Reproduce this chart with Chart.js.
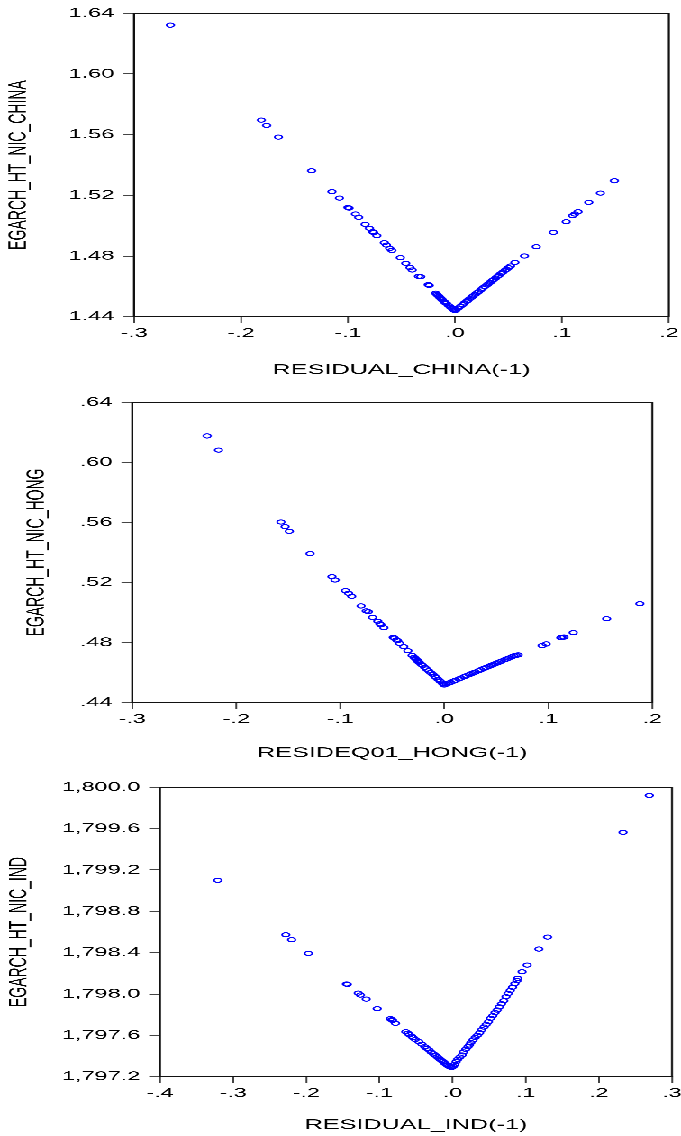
<!DOCTYPE html>
<html>
<head>
<meta charset="utf-8">
<script src="https://cdn.jsdelivr.net/npm/chart.js@4/dist/chart.umd.min.js"></script>
<style>
  html, body { margin: 0; padding: 0; background: #fff; overflow: hidden; }
  /* the reference is a horizontally stretched picture, so draw narrow and stretch */
  #wrap { position: relative; width: 378px; height: 1136px; transform: scaleX(1.8016); transform-origin: 0 0; }
  #wrap canvas { position: absolute; left: 0; }
</style>
</head>
<body>
<div id="wrap">
  <canvas id="c1" width="378" height="380" style="top:0px"></canvas>
  <canvas id="c2" width="378" height="383" style="top:380px"></canvas>
  <canvas id="c3" width="378" height="376" style="top:760px"></canvas>
</div>
<script>
// China: residual(-1) vs EGARCH news impact
const chinaX = [-0.266, -0.181, -0.176, -0.165, -0.134, -0.115, -0.108, -0.100, -0.099, -0.093, -0.090, -0.084,
  -0.080, -0.077, -0.076, -0.073, -0.066, -0.064, -0.061, -0.059, -0.051, -0.046, -0.042, -0.040, -0.034, -0.032,
  -0.025, -0.024, -0.018, -0.017, -0.016, -0.015, -0.014, -0.013, -0.012, -0.010, -0.009, -0.008, -0.006, -0.004,
  -0.003, -0.002, -0.001, 0.000,
  0.001, 0.003, 0.005, 0.007, 0.009, 0.011, 0.012, 0.014, 0.016, 0.017, 0.019, 0.021, 0.022, 0.024, 0.026, 0.028,
  0.030, 0.031, 0.033, 0.035, 0.036, 0.038, 0.040, 0.041, 0.043, 0.045, 0.047, 0.048, 0.050, 0.052, 0.056, 0.065,
  0.076, 0.092, 0.104, 0.110, 0.112, 0.115, 0.125, 0.136, 0.149];
const chinaY = [1.6322, 1.5696, 1.5661, 1.5584, 1.5362, 1.5224, 1.5182, 1.5120, 1.5116, 1.5077, 1.5055, 1.5009,
  1.4983, 1.4960, 1.4955, 1.4934, 1.4888, 1.4872, 1.4850, 1.4837, 1.4789, 1.4752, 1.4724, 1.4708, 1.4666, 1.4664,
  1.4611, 1.4606, 1.4555, 1.4548, 1.4541, 1.4534, 1.4526, 1.4519, 1.4512, 1.4499, 1.4492, 1.4487, 1.4474, 1.4462,
  1.4456, 1.4450, 1.4445, 1.4441,
  1.4444, 1.4456, 1.4468, 1.4479, 1.4491, 1.4502, 1.4508, 1.4520, 1.4531, 1.4537, 1.4548, 1.4559, 1.4565, 1.4576,
  1.4588, 1.4599, 1.4610, 1.4616, 1.4627, 1.4638, 1.4644, 1.4655, 1.4667, 1.4672, 1.4684, 1.4695, 1.4706, 1.4712,
  1.4723, 1.4734, 1.4758, 1.4800, 1.4861, 1.4956, 1.5026, 1.5066, 1.5077, 1.5092, 1.5154, 1.5215, 1.5296];

// Hong Kong
const hongX = [-0.228, -0.217, -0.157, -0.153, -0.149, -0.129, -0.108, -0.105, -0.095, -0.092, -0.089, -0.080,
  -0.075, -0.073, -0.069, -0.064, -0.062, -0.061, -0.058, -0.049, -0.048, -0.046, -0.045, -0.043, -0.039, -0.035,
  -0.031, -0.029, -0.028, -0.027, -0.026, -0.025, -0.024, -0.022, -0.021, -0.019, -0.017, -0.015, -0.013, -0.011,
  -0.009, -0.008, -0.006, -0.004, -0.002, -0.001, 0.000,
  0.002, 0.004, 0.006, 0.009, 0.011, 0.014, 0.016, 0.019, 0.021, 0.024, 0.026, 0.028, 0.030, 0.033, 0.035, 0.038,
  0.040, 0.043, 0.045, 0.047, 0.049, 0.051, 0.053, 0.055, 0.058, 0.060, 0.062, 0.065, 0.067, 0.069, 0.071, 0.094,
  0.098, 0.112, 0.113, 0.115, 0.124, 0.156, 0.188];
const hongY = [0.6176, 0.6082, 0.5603, 0.5572, 0.5541, 0.5392, 0.5239, 0.5217, 0.5146, 0.5128, 0.5108, 0.5044,
  0.5011, 0.5006, 0.4968, 0.4942, 0.4925, 0.4919, 0.4899, 0.4835, 0.4830, 0.4818, 0.4813, 0.4795, 0.4773, 0.4746,
  0.4715, 0.4702, 0.4695, 0.4688, 0.4681, 0.4674, 0.4667, 0.4655, 0.4649, 0.4636, 0.4624, 0.4612, 0.4600, 0.4588,
  0.4575, 0.4568, 0.4556, 0.4543, 0.4530, 0.4524, 0.4518,
  0.4524, 0.4530, 0.4535, 0.4544, 0.4550, 0.4558, 0.4564, 0.4573, 0.4579, 0.4587, 0.4593, 0.4599, 0.4604, 0.4613,
  0.4619, 0.4628, 0.4634, 0.4642, 0.4648, 0.4654, 0.4660, 0.4665, 0.4671, 0.4677, 0.4686, 0.4691, 0.4697, 0.4706,
  0.4712, 0.4715, 0.4718, 0.4780, 0.4791, 0.4833, 0.4835, 0.4837, 0.4866, 0.4959, 0.5059];

// India
const indX = [-0.321, -0.228, -0.220, -0.197, -0.145, -0.144, -0.129, -0.126, -0.118, -0.103, -0.085, -0.083,
  -0.082, -0.078, -0.064, -0.061, -0.059, -0.056, -0.054, -0.051, -0.046, -0.042, -0.038, -0.035, -0.032, -0.029,
  -0.026, -0.024, -0.021, -0.019, -0.017, -0.015, -0.013, -0.011, -0.009, -0.007, -0.005, -0.003, -0.001,
  0.001, 0.003, 0.005, 0.007, 0.010, 0.013, 0.015, 0.018, 0.021, 0.023, 0.025, 0.028, 0.031, 0.034, 0.037, 0.040,
  0.043, 0.046, 0.049, 0.052, 0.055, 0.058, 0.061, 0.064, 0.067, 0.070, 0.073, 0.076, 0.079, 0.082, 0.085, 0.088,
  0.089, 0.095, 0.102, 0.118, 0.130, 0.233, 0.269];
const indY = [1799.100, 1798.573, 1798.525, 1798.393, 1798.097, 1798.094, 1798.009, 1797.990, 1797.951, 1797.858,
  1797.761, 1797.751, 1797.745, 1797.716, 1797.635, 1797.620, 1797.607, 1797.592, 1797.578, 1797.560, 1797.539,
  1797.515, 1797.490, 1797.474, 1797.458, 1797.436, 1797.420, 1797.408, 1797.393, 1797.380, 1797.368, 1797.357,
  1797.345, 1797.333, 1797.322, 1797.311, 1797.300, 1797.293, 1797.291,
  1797.300, 1797.320, 1797.345, 1797.368, 1797.390, 1797.410, 1797.440, 1797.465, 1797.490, 1797.507, 1797.530,
  1797.555, 1797.580, 1797.600, 1797.625, 1797.655, 1797.680, 1797.705, 1797.732, 1797.765, 1797.790, 1797.820,
  1797.845, 1797.875, 1797.905, 1797.935, 1797.974, 1798.005, 1798.035, 1798.065, 1798.100, 1798.130, 1798.152,
  1798.215, 1798.280, 1798.435, 1798.551, 1799.564, 1799.921];

// Axis titles
const xTitles = ['RESIDUAL_CHINA(-1)', 'RESIDEQ01_HONG(-1)', 'RESIDUAL_IND(-1)'];
const yTitles = ['EGARCH_HT_NIC_CHINA', 'EGARCH_HT_NIC_HONG', 'EGARCH_HT_NIC_IND'];

// Box around the plot area
const framePlugin = {
  id: 'frame',
  afterDraw(chart) {
    const a = chart.chartArea;
    const ctx = chart.ctx;
    ctx.save();
    ctx.strokeStyle = '#111';
    ctx.lineWidth = 1.1;
    ctx.strokeRect(a.left, a.top, a.right - a.left, a.bottom - a.top);
    ctx.restore();
  }
};

// EViews style number labels: ".1", "-.2"
function shortNum(v, digits) {
  if (Math.abs(v) < 1e-9) v = 0;
  return v.toFixed(digits).replace(/^(-?)0\./, '$1.');
}

function makeChart(id, xs, ys, opt) {
  const pts = xs.map((x, i) => ({ x: x, y: ys[i] }));
  const font = { family: 'Liberation Sans, Arial, sans-serif', size: 13 };
  new Chart(document.getElementById(id), {
    type: 'scatter',
    data: {
      datasets: [{
        data: pts,
        pointStyle: 'circle',
        pointRadius: 2.1,
        pointBorderWidth: 1,
        pointBorderColor: '#0000ff',
        pointBackgroundColor: 'rgba(0,0,0,0)'
      }]
    },
    options: {
      responsive: false,
      devicePixelRatio: 3,
      animation: false,
      events: [],
      layout: { padding: opt.pad },
      plugins: { legend: { display: false }, tooltip: { enabled: false } },
      scales: {
        x: {
          type: 'linear',
          min: opt.xMin, max: opt.xMax,
          border: { display: true, color: '#111', width: 1 },
          grid: { display: true, drawOnChartArea: false, tickLength: 6, color: '#444' },
          ticks: { stepSize: 0.1, padding: 3, color: '#000', font: font,
                   callback: v => shortNum(v, 1) },
          title: { display: true, text: opt.xTitle, color: '#000',
                   font: { family: font.family, size: 14 }, padding: { top: 0, bottom: opt.xTitlePad } },
          afterFit: s => { s.height = opt.xHeight; s.paddingLeft = 0; s.paddingRight = 0; }
        },
        y: {
          type: 'linear',
          min: opt.yMin, max: opt.yMax,
          border: { display: true, color: '#111', width: 1 },
          grid: { display: true, drawOnChartArea: false, tickLength: 6, color: '#444' },
          ticks: { stepSize: opt.yStep, padding: 5, color: '#000', font: font, callback: opt.yFmt },
          title: { display: true, text: opt.yTitle, color: '#000',
                   font: { family: font.family, size: 14 }, padding: { top: opt.yTitlePad, bottom: 0 } },
          afterFit: s => { s.width = opt.yWidth; s.paddingTop = 0; s.paddingBottom = 0; }
        }
      }
    },
    plugins: [framePlugin]
  });
}

makeChart('c1', chinaX, chinaY, {
  xMin: -0.3, xMax: 0.2, yMin: 1.44, yMax: 1.64, yStep: 0.04,
  yFmt: v => v.toFixed(2),
  xTitle: xTitles[0], yTitle: yTitles[0],
  pad: { top: 13.3, right: 6.7, bottom: 0, left: 0 },
  yWidth: 74.4, xHeight: 63.3, xTitlePad: 1.6, yTitlePad: 2.1
});

makeChart('c2', hongX, hongY, {
  xMin: -0.3, xMax: 0.2, yMin: 0.44, yMax: 0.64, yStep: 0.04,
  yFmt: v => shortNum(v, 2),
  xTitle: xTitles[1], yTitle: yTitles[1],
  pad: { top: 22.3, right: 15.9, bottom: 0, left: 0 },
  yWidth: 73.4, xHeight: 60.3, xTitlePad: 1.6, yTitlePad: 12.1
});

makeChart('c3', indX, indY, {
  xMin: -0.4, xMax: 0.3, yMin: 1797.2, yMax: 1800.0, yStep: 0.4,
  yFmt: v => v.toLocaleString('en-US', { minimumFractionDigits: 1, maximumFractionDigits: 1 }),
  xTitle: xTitles[2], yTitle: yTitles[2],
  pad: { top: 27.3, right: 4.4, bottom: 0, left: 0 },
  yWidth: 88.8, xHeight: 59.3, xTitlePad: 2.6, yTitlePad: 2.4
});
</script>
</body>
</html>
